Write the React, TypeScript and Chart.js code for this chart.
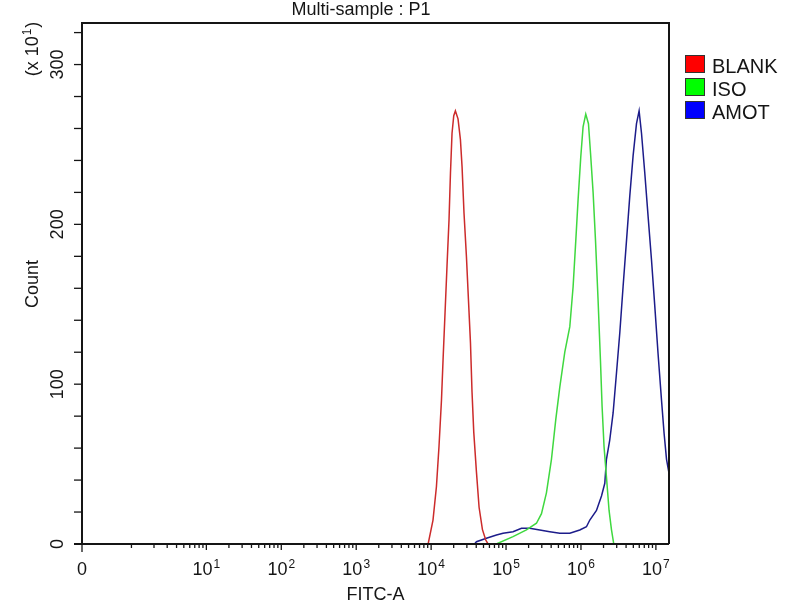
import React, { useEffect, useRef } from 'react';
import { Chart, registerables } from 'chart.js';

Chart.register(...registerables);

// ---- Data (x = log10 of FITC-A intensity, y = count ×10) ----
const seriesNames = ['BLANK', 'ISO', 'AMOT'];
const lineColors = ['#cc2b2b', '#3fd83f', '#1c1c8a'];
const legendColors = ['#ff0000', '#00ff00', '#0000ff'];

const blankX = [3.96, 4.025, 4.071, 4.105, 4.138, 4.159, 4.186, 4.212, 4.239, 4.258, 4.279, 4.302, 4.324, 4.359, 4.391, 4.413, 4.439, 4.471, 4.498, 4.525, 4.546, 4.569, 4.605, 4.64, 4.685, 4.729, 4.76];
const blankY = [0, 15, 36, 61, 90, 115, 145, 174, 203, 232, 257, 268, 271, 266, 253, 236, 207, 180, 153, 126, 95, 70, 45, 23, 9, 2.5, 0];

const isoX = [4.87, 5.093, 5.272, 5.406, 5.473, 5.539, 5.606, 5.664, 5.717, 5.784, 5.851, 5.895, 5.931, 5.961, 5.997, 6.028, 6.064, 6.1, 6.127, 6.162, 6.194, 6.228, 6.26, 6.282, 6.308, 6.34, 6.375, 6.407, 6.438];
const isoY = [0, 4.6, 8.8, 13, 19, 32, 53, 78, 98, 120, 136, 161, 190, 215, 242, 261, 269, 263, 245, 220, 190, 153, 115, 86, 61, 42, 21, 9, 0];

const amotX = [4.58, 4.605, 4.738, 4.872, 4.96, 5.093, 5.206, 5.316, 5.45, 5.584, 5.717, 5.851, 5.984, 6.073, 6.118, 6.207, 6.274, 6.318, 6.34, 6.384, 6.429, 6.474, 6.518, 6.562, 6.608, 6.652, 6.696, 6.741, 6.776, 6.808, 6.852, 6.896, 6.941, 6.985, 7.029, 7.075, 7.11, 7.142, 7.176];
const amotY = [0, 1.4, 3.6, 5.6, 6.7, 7.7, 9.8, 9.8, 8.8, 7.7, 6.7, 6.7, 8.8, 10.8, 15, 21, 30, 38, 53, 65, 82, 107, 132, 161, 190, 218, 243, 263, 271, 257, 232, 205, 178, 149, 119, 90, 69, 53, 44];

// ---- Axis labels ----
const chartTitle = 'Multi-sample : P1';
const xAxisTitle = 'FITC-A';
const yAxisTitle = 'Count';
const yMultiplierBase = '(x 10';
const yMultiplierExp = '1';
const xZeroLabel = '0';
const xZeroPosition = -0.66;
const xDecades = [1, 2, 3, 4, 5, 6, 7];
const xDecadeBase = '10';
const yTickValues = [0, 100, 200, 300];
const yMinorStep = 20;
const xMin = xZeroPosition;
const xMax = 7.175;
const yMin = 0;
const yMax = 326;

const FONT = '"Liberation Sans", Arial, sans-serif';
const INK = '#151515';

function toPoints(xs: number[], ys: number[]) {
  return xs.map((x, i) => ({ x, y: ys[i] }));
}

const flowAxesPlugin = {
  id: 'flowAxes',
  afterDatasetsDraw(chart: any) {
    const { ctx, chartArea: a } = chart;
    const xs = chart.scales.x;
    const ys = chart.scales.y;
    ctx.save();

    // frame
    ctx.strokeStyle = INK;
    ctx.lineWidth = 2;
    ctx.beginPath();
    ctx.moveTo(a.left, a.bottom);
    ctx.lineTo(a.left, a.top);
    ctx.lineTo(a.right, a.top);
    ctx.lineTo(a.right, a.bottom);
    ctx.stroke();
    ctx.beginPath();
    ctx.moveTo(a.left - 8, a.bottom);
    ctx.lineTo(a.right, a.bottom);
    ctx.stroke();

    // x ticks
    ctx.lineWidth = 1.3;
    const tick = (px: number, len: number) => {
      ctx.beginPath();
      ctx.moveTo(px, a.bottom);
      ctx.lineTo(px, a.bottom + len);
      ctx.stroke();
    };
    tick(xs.getPixelForValue(xZeroPosition), 8);
    for (let k = 1; k <= 9; k++) tick(xs.getPixelForValue(Math.log10(k)), 4);
    xDecades.forEach((d, i) => {
      tick(xs.getPixelForValue(d), 6);
      if (i < xDecades.length - 1) {
        for (let k = 2; k <= 9; k++) tick(xs.getPixelForValue(d + Math.log10(k)), 4);
      }
    });

    // x labels
    ctx.fillStyle = INK;
    ctx.textBaseline = 'alphabetic';
    ctx.font = `18px ${FONT}`;
    ctx.textAlign = 'center';
    ctx.fillText(xZeroLabel, xs.getPixelForValue(xZeroPosition), 575);
    xDecades.forEach((d) => {
      ctx.font = `18px ${FONT}`;
      const wBase = ctx.measureText(xDecadeBase).width;
      ctx.font = `12px ${FONT}`;
      const exp = String(d);
      const wExp = ctx.measureText(exp).width;
      const total = wBase + wExp + 1;
      const cx = xs.getPixelForValue(d);
      const left = cx - total / 2;
      ctx.textAlign = 'left';
      ctx.font = `18px ${FONT}`;
      ctx.fillText(xDecadeBase, left, 575);
      ctx.font = `12px ${FONT}`;
      ctx.fillText(exp, left + wBase + 1, 568);
    });

    // x title
    ctx.font = `18px ${FONT}`;
    ctx.textAlign = 'center';
    ctx.fillText(xAxisTitle, (a.left + a.right) / 2, 600);

    // y ticks
    for (let v = yMin; v <= yMax; v += yMinorStep) {
      const py = ys.getPixelForValue(v);
      ctx.beginPath();
      ctx.moveTo(a.left - 8, py);
      ctx.lineTo(a.left, py);
      ctx.stroke();
    }

    // y labels (rotated)
    ctx.font = `18px ${FONT}`;
    yTickValues.forEach((v) => {
      ctx.save();
      ctx.translate(a.left - 23.5, ys.getPixelForValue(v));
      ctx.rotate(-Math.PI / 2);
      ctx.textAlign = 'center';
      ctx.textBaseline = 'middle';
      ctx.fillText(String(v), 0, 0);
      ctx.restore();
    });

    // y title
    ctx.save();
    ctx.translate(33.5, 284);
    ctx.rotate(-Math.PI / 2);
    ctx.textAlign = 'center';
    ctx.textBaseline = 'middle';
    ctx.font = `18px ${FONT}`;
    ctx.fillText(yAxisTitle, 0, 0);
    ctx.restore();

    // multiplier "(x 10¹)"
    ctx.save();
    ctx.translate(33.5, 49);
    ctx.rotate(-Math.PI / 2);
    ctx.textBaseline = 'middle';
    ctx.textAlign = 'left';
    ctx.font = `18px ${FONT}`;
    const wb = ctx.measureText(yMultiplierBase).width;
    const wc = ctx.measureText(')').width;
    ctx.font = `12px ${FONT}`;
    const we = ctx.measureText(yMultiplierExp).width;
    const tot = wb + we + wc + 2;
    let sx = -tot / 2;
    ctx.font = `18px ${FONT}`;
    ctx.fillText(yMultiplierBase, sx, 0);
    sx += wb + 1;
    ctx.font = `12px ${FONT}`;
    ctx.fillText(yMultiplierExp, sx, -6);
    sx += we + 1;
    ctx.font = `18px ${FONT}`;
    ctx.fillText(')', sx, 0);
    ctx.restore();

    // title
    ctx.font = `18px ${FONT}`;
    ctx.textAlign = 'center';
    ctx.textBaseline = 'alphabetic';
    ctx.fillText(chartTitle, 361, 15);

    // legend
    seriesNames.forEach((name, i) => {
      const top = 55 + i * 23;
      ctx.fillStyle = legendColors[i];
      ctx.fillRect(685, top, 20, 18);
      ctx.strokeStyle = '#333';
      ctx.lineWidth = 1;
      ctx.strokeRect(685.5, top + 0.5, 19, 17);
      ctx.fillStyle = INK;
      ctx.font = `20px ${FONT}`;
      ctx.textAlign = 'left';
      ctx.textBaseline = 'alphabetic';
      ctx.fillText(name, 712, top + 18);
    });

    ctx.restore();
  },
};

export default function App() {
  const canvasRef = useRef<HTMLCanvasElement | null>(null);

  useEffect(() => {
    const canvas = canvasRef.current;
    if (!canvas) return;
    const chart = new Chart(canvas, {
      type: 'line',
      data: {
        datasets: [
          { label: seriesNames[0], data: toPoints(blankX, blankY), borderColor: lineColors[0] },
          { label: seriesNames[1], data: toPoints(isoX, isoY), borderColor: lineColors[1] },
          { label: seriesNames[2], data: toPoints(amotX, amotY), borderColor: lineColors[2] },
        ].map((d) => ({ ...d, borderWidth: 1.5, pointRadius: 0, fill: false, tension: 0 })),
      },
      options: {
        animation: false,
        responsive: false,
        devicePixelRatio: 1,
        layout: { padding: { left: 82, top: 23, right: 131, bottom: 56 } },
        plugins: { legend: { display: false }, tooltip: { enabled: false }, title: { display: false } },
        scales: {
          x: { type: 'linear', min: xMin, max: xMax, display: false },
          y: { type: 'linear', min: yMin, max: yMax, display: false },
        },
      },
      plugins: [flowAxesPlugin],
    });
    return () => chart.destroy();
  }, []);

  return (
    <div style={{ position: 'fixed', left: 0, top: 0, width: 800, height: 600, background: '#fff' }}>
      <canvas ref={canvasRef} width={800} height={600} />
    </div>
  );
}
